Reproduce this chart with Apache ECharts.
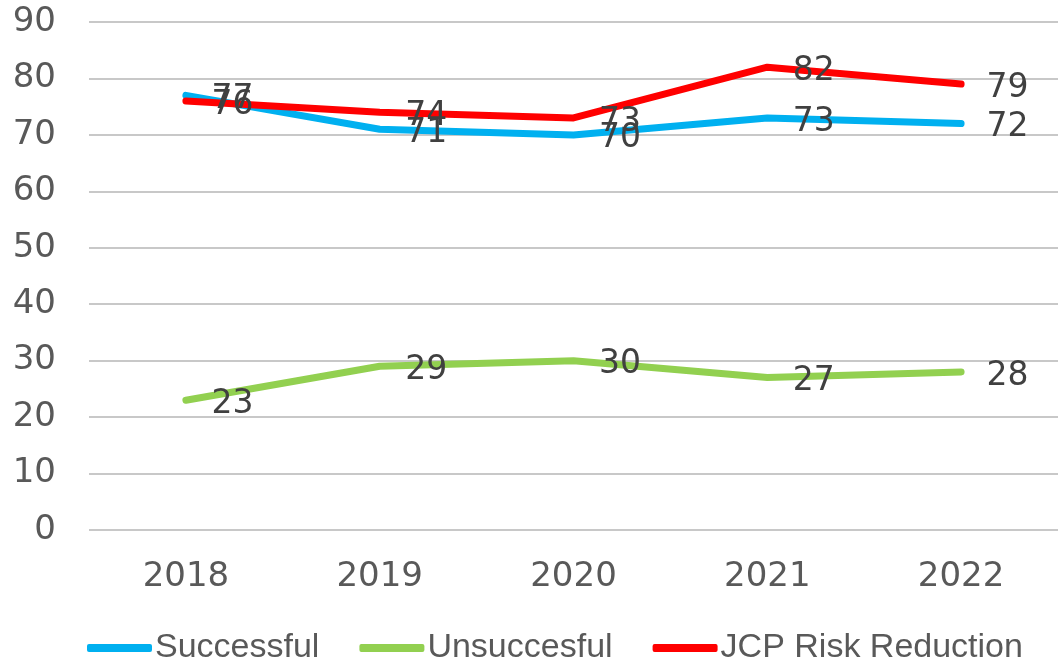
<!DOCTYPE html>
<html lang="en">
<head>
    <meta charset="UTF-8">
    <title>Outcomes by year</title>
    <style>
        html,body{margin:0;padding:0;background:#fff}
        #chart{width:1058px;height:660px}
    </style>
    <script src="https://cdn.jsdelivr.net/npm/echarts@6/dist/echarts.min.js"></script>
</head>
<body>
<div id="chart"></div>
<script>
    var years = ['2018', '2019', '2020', '2021', '2022'],
        successful = [77, 71, 70, 73, 72],
        unsuccessful = [23, 29, 30, 27, 28],
        jcpRisk = [76, 74, 73, 82, 79];

    var axisFont = '"DejaVu Sans", sans-serif',
        legendFont = '"Liberation Sans", Arial, sans-serif',
        labelColor = '#404040',
        tickColor = '#595959';

    function makeLine(name, data, color) {
        return {
            name: name,
            type: 'line',
            data: data,
            // tiny symbol so the data labels still render
            symbol: 'circle',
            symbolSize: 1,
            lineStyle: {width: 7, color: color, cap: 'round', join: 'round'},
            itemStyle: {color: color},
            label: {
                show: true,
                position: 'right',
                distance: 25,
                offset: [0, 4],
                fontSize: 33,
                fontFamily: axisFont,
                color: labelColor
            }
        };
    }

    var option = {
        animation: false,
        backgroundColor: '#fff',
        grid: {left: 89, right: 0, top: 22, bottom: 130},
        legend: {
            top: 626,
            left: 82,
            icon: 'roundRect',
            itemWidth: 65,
            itemHeight: 8,
            itemGap: 40,
            textStyle: {fontSize: 34, fontFamily: legendFont, color: tickColor, padding: [0, 0, 0, -2]},
            data: ['Successful', 'Unsuccesful', 'JCP Risk Reduction']
        },
        xAxis: {
            type: 'category',
            data: years,
            boundaryGap: true,
            axisLine: {show: false},
            axisTick: {show: false},
            axisLabel: {fontSize: 34, fontFamily: axisFont, color: tickColor, margin: 30}
        },
        yAxis: {
            type: 'value',
            min: 0,
            max: 90,
            interval: 10,
            axisLine: {show: false},
            axisTick: {show: false},
            axisLabel: {fontSize: 34, fontFamily: axisFont, color: tickColor, margin: 33},
            splitLine: {lineStyle: {color: '#c8c8c8', width: 2}}
        },
        series: [
            makeLine('Successful', successful, '#00b0f0'),
            makeLine('Unsuccesful', unsuccessful, '#92d050'),
            makeLine('JCP Risk Reduction', jcpRisk, '#ff0000')
        ]
    };

    var chart = echarts.init(document.getElementById('chart'));
    chart.setOption(option);
</script>
</body>
</html>
